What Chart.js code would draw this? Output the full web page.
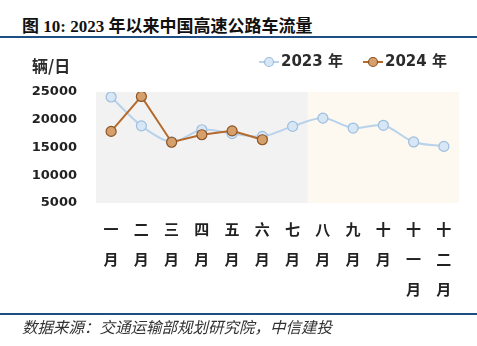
<!DOCTYPE html>
<html>
<head>
<meta charset="utf-8">
<script src="https://cdn.jsdelivr.net/npm/chart.js@4.4.1/dist/chart.umd.min.js"></script>
<style>
    body { margin: 0; background: #fff; }
    #wrap { position: relative; width: 477px; height: 346px; overflow: hidden; }
    #chart { position: absolute; left: 0; top: 0; }
    .title { position: absolute; left: 22px; top: 12px; font: bold 17px "Liberation Serif", "Noto Sans CJK SC", sans-serif; color: #111; white-space: nowrap; }
    .title .cn { font-family: "Noto Sans CJK SC", sans-serif; }
    .rule { position: absolute; left: 0; width: 477px; height: 2px; background: #1d4f84; }
    .source { position: absolute; left: 22px; top: 315px; font: italic 15.5px "Noto Sans CJK SC", sans-serif; color: #333; white-space: nowrap; }
</style>
</head>
<body>
<div id="wrap">
    <div class="title"><span class="cn">图</span> 10: 2023 <span class="cn">年以来中国高速公路车流量</span></div>
    <div class="rule" style="top:36px"></div>
    <canvas id="chart" width="477" height="346"></canvas>
    <div class="rule" style="top:313px"></div>
    <div class="source">数据来源：交通运输部规划研究院，中信建投</div>
</div>
<script>
// months, one character per line
const months = [
    ['一', '月'], ['二', '月'], ['三', '月'], ['四', '月'], ['五', '月'], ['六', '月'],
    ['七', '月'], ['八', '月'], ['九', '月'], ['十', '月'], ['十', '一', '月'], ['十', '二', '月']
];
const flow2023 = [24100, 18900, 16000, 18200, 17500, 17000, 18800, 20300, 18500, 19000, 16000, 15200];
const flow2024 = [17900, 24200, 15950, 17300, 18000, 16400];
const yTicks = [5000, 10000, 15000, 20000, 25000];
const seriesNames = ['2023 年', '2024 年'];
const yUnit = '辆/日';

const blueLine = '#b8d2eb', blueFill = '#d7e7f5', blueEdge = '#9dbfdf';
const brownLine = '#b5692a', brownFill = '#d5a06c', brownEdge = '#8e5424';

// shaded plot background: grey for Jan-Jul, cream for the rest
const bgPlugin = {
    id: 'bg',
    beforeDatasetsDraw(chart) {
        const { ctx, chartArea: a, scales: { x } } = chart;
        const split = (x.getPixelForValue(6) + x.getPixelForValue(7)) / 2;
        ctx.save();
        ctx.fillStyle = '#f2f2f2';
        ctx.fillRect(a.left, a.top, split - a.left, a.bottom - a.top);
        ctx.fillStyle = '#fdf8f0';
        ctx.fillRect(split, a.top, a.right - split, a.bottom - a.top);
        ctx.restore();
    }
};

// unit label and the legend (line + marker + text)
const overlayPlugin = {
    id: 'overlay',
    afterDraw(chart) {
        const ctx = chart.ctx;
        ctx.save();
        ctx.fillStyle = '#2b2b2b';
        ctx.textBaseline = 'middle';
        ctx.font = 'bold 16px "Noto Sans CJK SC", sans-serif';
        ctx.textAlign = 'left';
        ctx.fillText(yUnit, 32, 66);

        const items = [
            { x: 269, name: seriesNames[0], line: blueLine, fill: blueFill, edge: blueEdge },
            { x: 373, name: seriesNames[1], line: brownLine, fill: brownFill, edge: brownEdge }
        ];
        items.forEach(it => {
            ctx.strokeStyle = it.line;
            ctx.lineWidth = 2;
            ctx.beginPath();
            ctx.moveTo(it.x - 10, 62);
            ctx.lineTo(it.x + 10, 62);
            ctx.stroke();
            ctx.beginPath();
            ctx.arc(it.x, 62, 4.5, 0, Math.PI * 2);
            ctx.fillStyle = it.fill;
            ctx.fill();
            ctx.lineWidth = 1.2;
            ctx.strokeStyle = it.edge;
            ctx.stroke();
            ctx.fillStyle = '#2b2b2b';
            ctx.font = 'bold 15px "DejaVu Sans", "Noto Sans CJK SC", sans-serif';
            ctx.fillText(it.name, it.x + 12, 62);
        });
        ctx.restore();
    }
};

new Chart(document.getElementById('chart'), {
    type: 'line',
    data: {
        labels: months,
        datasets: [
            {
                label: seriesNames[0],
                data: flow2023,
                borderColor: blueLine,
                borderWidth: 2,
                backgroundColor: blueFill,
                pointBackgroundColor: blueFill,
                pointBorderColor: blueEdge,
                pointBorderWidth: 1.2,
                pointRadius: 5,
                tension: 0.3,
                order: 2
            },
            {
                label: seriesNames[1],
                data: flow2024,
                borderColor: brownLine,
                borderWidth: 2,
                backgroundColor: brownFill,
                pointBackgroundColor: brownFill,
                pointBorderColor: brownEdge,
                pointBorderWidth: 1.2,
                pointRadius: 5,
                tension: 0,
                order: 1
            }
        ]
    },
    options: {
        responsive: false,
        animation: false,
        layout: { padding: { left: 0, top: 92, right: 18, bottom: 33 } },
        plugins: {
            legend: { display: false },
            title: { display: false },
            tooltip: { enabled: false }
        },
        scales: {
            x: {
                offset: true,
                grid: { display: false },
                border: { display: false },
                afterFit(scale) { scale.height = 110; },
                ticks: {
                    autoSkip: false,
                    maxRotation: 0,
                    padding: 3,
                    color: '#222',
                    font: { family: '"Noto Sans CJK SC", sans-serif', size: 15, weight: 'bold', lineHeight: '30px' }
                }
            },
            y: {
                min: 5000,
                max: 25000,
                grid: { display: false },
                border: { display: false },
                afterFit(scale) { scale.width = 96; },
                afterBuildTicks(scale) { scale.ticks = yTicks.map(v => ({ value: v })); },
                ticks: {
                    padding: 11,
                    color: '#222',
                    font: { family: '"DejaVu Sans", sans-serif', size: 13, weight: 'bold' },
                    callback: v => String(v)
                }
            }
        }
    },
    plugins: [bgPlugin, overlayPlugin]
});
</script>
</body>
</html>
